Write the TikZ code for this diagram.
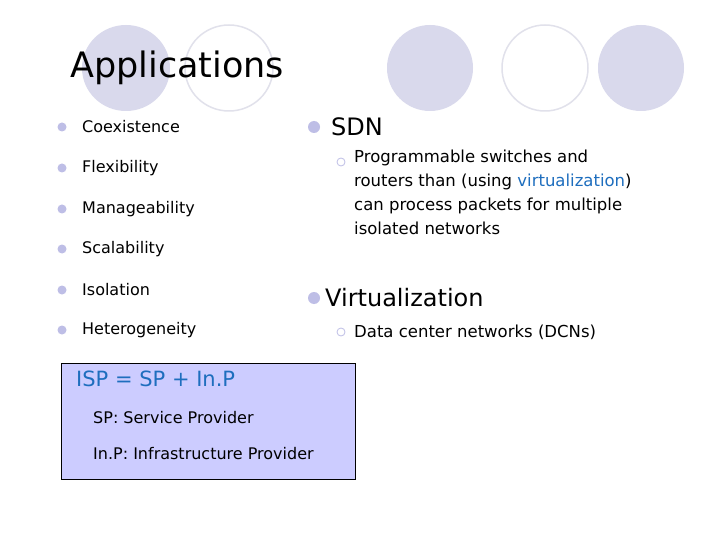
\documentclass[tikz,border=0pt]{standalone}
\usepackage{fontspec}
\setmainfont{DejaVu Sans}
\begin{document}
\begin{tikzpicture}[x=1pt,y=-1pt,
  fc/.style={fill=lav,draw=none},
  hc/.style={fill=white,draw=lavline,line width=1.5pt},
  dot/.style={circle,fill=lavdot,inner sep=0pt,minimum size=9pt},
  hdot/.style={circle,draw=lavdot,fill=white,inner sep=0pt,minimum size=8pt,line width=0.8pt},
  itm/.style={anchor=west,inner sep=0pt,font=\fontsize{16}{18}\selectfont},
  big/.style={anchor=west,inner sep=0pt,font=\fontsize{24}{28}\selectfont}]
\definecolor{lav}{RGB}{217,217,236}
\definecolor{lavline}{RGB}{225,225,235}
\definecolor{lavdot}{RGB}{190,190,230}
\definecolor{boxc}{RGB}{204,204,255}
\definecolor{bl}{RGB}{30,110,190}
\useasboundingbox (0,0) rectangle (720,540);
\fill[white] (0,0) rectangle (720,540);
\fill[fc] (126,68) ellipse (44 and 43);
\draw[hc] (229,68) ellipse (44 and 43);
\fill[fc] (430,68) ellipse (43 and 43);
\draw[hc] (545,68) ellipse (43 and 43);
\fill[fc] (641,68) ellipse (43 and 43);
\node[anchor=west,inner sep=0pt,font=\fontsize{35}{40}\selectfont] (t) at (70,68) {Applications};
\foreach \y/\t/\n in {127/Coexistence/a,168/Flexibility/b,209/Manageability/c,249/Scalability/d,290/Isolation/e,330/Heterogeneity/f}{
  \node[dot] (d\n) at (62,\y) {};
  \node[itm] (i\n) at (82,\y) {\t};
}
\node[dot,minimum size=12pt] (ds) at (314,127) {};
\node[big] (sdn) at (331,127) {SDN};
\node[hdot] (hs) at (341,162) {};
\node[itm,align=left,anchor=north west,font=\fontsize{16.5}{24}\selectfont] (st) at (354,150) {Programmable switches and\\routers than (using \textcolor{bl}{virtualization})\\can process packets for multiple\\isolated networks};
\node[dot,minimum size=12pt] (dv) at (314,298) {};
\node[big] (vt) at (325,298) {Virtualization};
\node[hdot] (hv) at (341,332) {};
\node[itm,font=\fontsize{16.5}{18}\selectfont] (dc) at (354,332) {Data center networks (DCNs)};
\node[draw=black,fill=boxc,minimum width=294pt,minimum height=116pt,anchor=north west,inner sep=0pt] (box) at (61,363) {};
\node[anchor=west,inner sep=0pt,text=bl,font=\fontsize{21}{24}\selectfont] (isp) at (76,379) {ISP = SP + In.P};
\node[anchor=west,inner sep=0pt,font=\fontsize{16}{18}\selectfont] (sp) at (93,418) {SP: Service Provider};
\node[anchor=west,inner sep=0pt,font=\fontsize{16}{18}\selectfont] (inp) at (93,454) {In.P: Infrastructure Provider};
\end{tikzpicture}
\end{document}
